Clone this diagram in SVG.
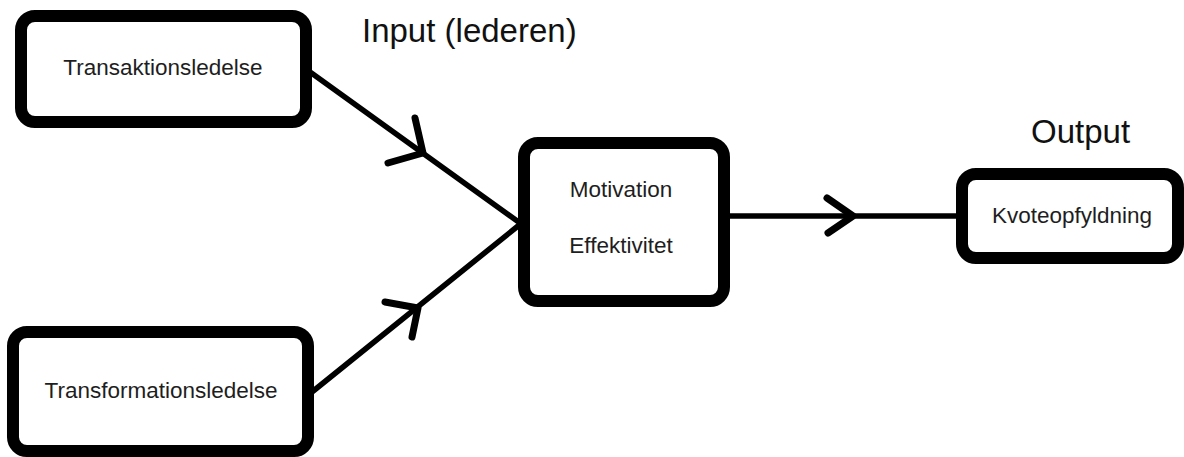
<svg xmlns="http://www.w3.org/2000/svg" width="1184" height="457" viewBox="0 0 1184 457">
<style>
.box{fill:#fff;stroke:#000;stroke-width:12}
.lbl{font-family:"Liberation Sans",Arial,sans-serif;font-size:22.5px;fill:#1e1e1e;text-anchor:middle}
.head{font-family:"Liberation Sans",Arial,sans-serif;font-size:33px;fill:#111;text-anchor:start}
.ln{fill:none;stroke:#000;stroke-width:5.5;stroke-linecap:round}
.chev{fill:none;stroke:#000;stroke-width:7;stroke-linecap:round;stroke-linejoin:round}
</style>
<rect width="1184" height="457" fill="#fff"/>
<g id="connectors">
<line class="ln" x1="310" y1="72" x2="520" y2="223"/>
<polyline class="chev" points="415,118 423,153 388,163"/>
<line class="ln" x1="312" y1="392" x2="518" y2="226"/>
<polyline class="chev" points="385,302 418,308 412,337"/>
<line class="ln" x1="730" y1="216" x2="956" y2="216"/>
<polyline class="chev" points="827,198 853,216 828,233"/>
</g>
<g id="transaktion">
<rect class="box" x="21" y="16" width="285" height="106" rx="14"/>
<text class="lbl" x="163" y="75">Transaktionsledelse</text>
</g>
<g id="transformation">
<rect class="box" x="13" y="332" width="295" height="119" rx="14"/>
<text class="lbl" x="161" y="398">Transformationsledelse</text>
</g>
<g id="motivation">
<rect class="box" x="524" y="143" width="200" height="158" rx="14"/>
<text class="lbl" x="621" y="197">Motivation</text>
<text class="lbl" x="621" y="253">Effektivitet</text>
</g>
<g id="kvote">
<rect class="box" x="962" y="174" width="216" height="84" rx="14"/>
<text class="lbl" x="1072" y="223">Kvoteopfyldning</text>
</g>
<text class="head" x="362" y="42">Input (lederen)</text>
<text class="head" x="1031" y="143">Output</text>
</svg>
